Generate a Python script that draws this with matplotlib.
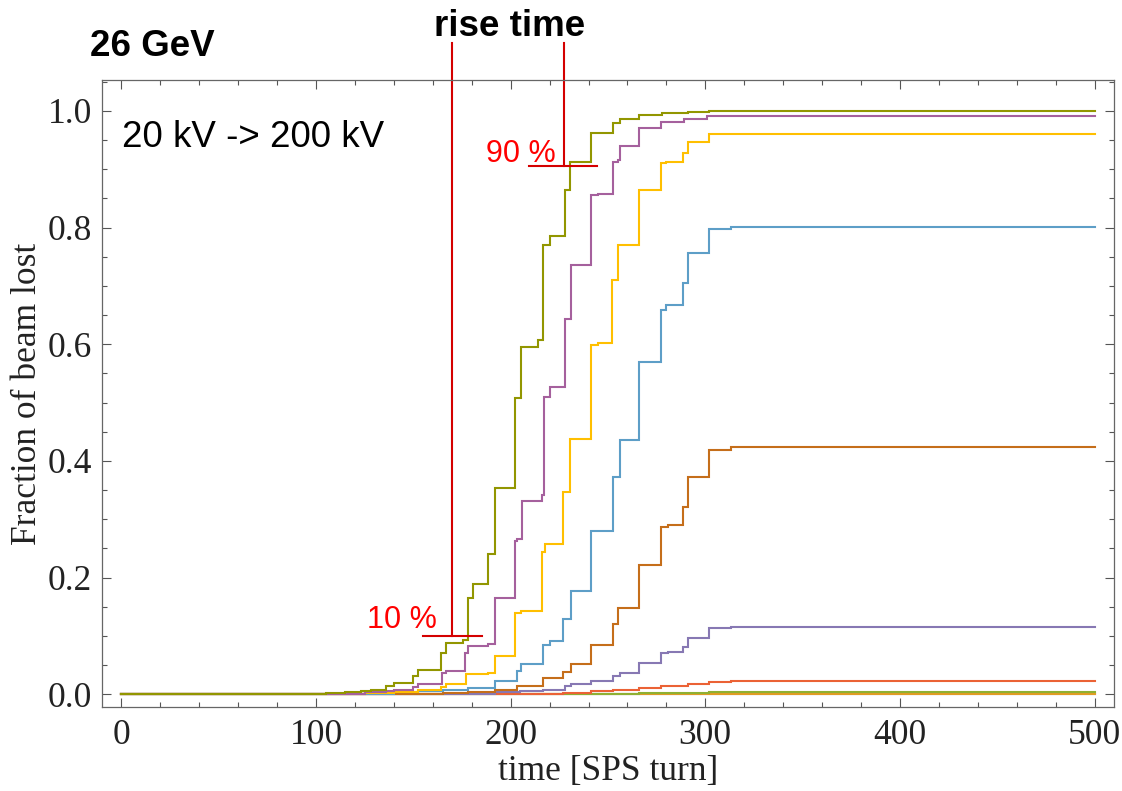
import matplotlib
matplotlib.use('Agg')
import matplotlib.pyplot as plt
from matplotlib.ticker import MultipleLocator

# ---------------- data ----------------
x_ticks = [0, 100, 200, 300, 400, 500]
x_ticklabels = ['0', '100', '200', '300', '400', '500']
y_ticks = [0.0, 0.2, 0.4, 0.6, 0.8, 1.0]
y_ticklabels = ['0.0', '0.2', '0.4', '0.6', '0.8', '1.0']

blue_t = [0, 302, 500]
blue_f = [0, 0.0003, 0.0003]

orange_t = [0, 266, 302, 500]
orange_f = [0, 0.0005, 0.001, 0.001]

green_t = [0, 230, 252, 266, 280, 302, 313, 500]
green_f = [0, 0.0005, 0.001, 0.0015, 0.002, 0.003, 0.0032, 0.0032]

red_t = [0, 205, 227, 241.4, 252.6, 266, 277.4, 291, 302, 313.3, 500]
red_f = [0, 0.001, 0.002, 0.005, 0.008, 0.010, 0.014, 0.018, 0.0206, 0.0218, 0.0218]

purple_t = [0, 165, 192, 205, 216.6, 228, 231, 241.4, 252.6, 256, 266, 277.4, 280.8,
            288.5, 291, 302, 313.3, 500]
purple_f = [0, 0.001, 0.003, 0.005, 0.008, 0.014, 0.017, 0.022, 0.031, 0.037, 0.054,
            0.071, 0.072, 0.081, 0.097, 0.114, 0.116, 0.116]

brown_t = [0, 140, 165, 178, 192, 203, 216.6, 227, 231, 241.4, 252.6, 255, 266, 277.4,
           280.8, 288.5, 291, 302, 313.3, 500]
brown_f = [0, 0.001, 0.002, 0.004, 0.007, 0.014, 0.028, 0.038, 0.052, 0.085, 0.121,
           0.148, 0.222, 0.286, 0.290, 0.321, 0.372, 0.419, 0.424, 0.424]

lblue_t = [0, 120, 140, 152.5, 165, 178, 191.8, 203, 205.5, 216.6, 220, 227, 231, 241.4,
           252.6, 256, 266, 277.4, 280, 288.5, 291, 302, 313.3, 500]
lblue_f = [0, 0.001, 0.003, 0.005, 0.008, 0.011, 0.022, 0.040, 0.051, 0.085, 0.091,
           0.129, 0.177, 0.280, 0.372, 0.436, 0.569, 0.659, 0.668, 0.705, 0.757, 0.798,
           0.801, 0.801]

yellow_t = [0, 100, 125, 140, 152.5, 164, 167, 177, 188.4, 191.8, 202, 205.5, 216,
            217.5, 227, 230.3, 241.4, 245, 252.2, 255, 266, 277.4, 280, 288.5, 291,
            302, 500]
yellow_f = [0, 0.0005, 0.002, 0.004, 0.008, 0.012, 0.017, 0.034, 0.037, 0.065, 0.140,
            0.142, 0.243, 0.258, 0.346, 0.437, 0.598, 0.602, 0.710, 0.770, 0.864,
            0.910, 0.913, 0.928, 0.947, 0.960, 0.960]

pink_t = [0, 80, 110, 125, 136, 140, 150, 152.5, 164.5, 167, 176.5, 178, 188.4, 191.8,
          202, 203.3, 205.9, 216, 217, 220, 227.7, 231, 241.4, 245, 252.6, 255, 256,
          266, 277, 289, 301, 313, 500]
pink_f = [0, 0.0005, 0.001, 0.003, 0.006, 0.008, 0.012, 0.017, 0.036, 0.039, 0.070,
          0.082, 0.086, 0.165, 0.263, 0.266, 0.332, 0.342, 0.509, 0.526, 0.644, 0.735,
          0.856, 0.858, 0.913, 0.916, 0.939, 0.970, 0.981, 0.986, 0.991, 0.992, 0.992]

olive_t = [0, 60, 90, 105, 115, 123, 128, 136, 140, 150, 152.5, 164, 167, 175.5, 178,
           180.7, 188.4, 191.8, 202, 205.5, 214, 216.6, 220, 227.8, 230.3, 241.4,
           252.6, 256, 266, 278, 291, 302, 500]
olive_f = [0, 0.0005, 0.001, 0.002, 0.003, 0.005, 0.007, 0.014, 0.019, 0.031, 0.041,
           0.070, 0.088, 0.093, 0.165, 0.189, 0.240, 0.354, 0.507, 0.595, 0.607, 0.770,
           0.785, 0.864, 0.913, 0.962, 0.979, 0.986, 0.993, 0.996, 0.998, 0.999, 0.999]

series = [
    (blue_t, blue_f, '#5E81B5'),
    (orange_t, orange_f, '#E19C24'),
    (green_t, green_f, '#8FB032'),
    (red_t, red_f, '#EB6235'),
    (purple_t, purple_f, '#8778B3'),
    (brown_t, brown_f, '#C56E1A'),
    (lblue_t, lblue_f, '#5D9EC7'),
    (yellow_t, yellow_f, '#FFBF00'),
    (pink_t, pink_f, '#A5609D'),
    (olive_t, olive_f, '#929600'),
]

# rise-time markers
t10, f10 = 169.8, 0.10
t90, f90 = 227.5, 0.905
marker_top = 1.117

# ---------------- figure ----------------
serif = ['Liberation Serif', 'DejaVu Serif']
sans = ['Liberation Sans', 'DejaVu Sans']

fig = plt.figure(figsize=(11.22, 7.91), dpi=100)
ax = fig.add_axes([102 / 1122, 1 - 707 / 791, (1114 - 102) / 1122, (707 - 80) / 791])

for t, f, c in series:
    ax.step(t, f, where='post', color=c, lw=1.5, solid_joinstyle='miter')

ax.set_xlim(-10, 510)
ax.set_ylim(-0.022, 1.053)

ax.set_xticks(x_ticks)
ax.set_xticklabels(x_ticklabels, family=serif)
ax.set_yticks(y_ticks)
ax.set_yticklabels(y_ticklabels, family=serif)
ax.xaxis.set_minor_locator(MultipleLocator(20))
ax.yaxis.set_minor_locator(MultipleLocator(0.05))
ax.tick_params(which='both', direction='in', top=True, right=True,
               color='#555555', width=0.8)
ax.tick_params(which='major', length=6.5, labelsize=25.5, labelcolor='#222222')
ax.tick_params(which='minor', length=3.5)
ax.tick_params(axis='x', pad=9)
ax.tick_params(axis='y', pad=7)
for s in ax.spines.values():
    s.set_color('#666666')
    s.set_linewidth(0.9)

ax.set_xlabel('time [SPS turn]', family=serif, fontsize=25.5, color='#222222', labelpad=2)
ax.set_ylabel('Fraction of beam lost', family=serif, fontsize=25.5, color='#222222', labelpad=3)

# rise-time annotation lines
lc = '#d40000'
ax.plot([t10, t10], [f10, marker_top], color=lc, lw=1.5, clip_on=False)
ax.plot([155, 185.5], [f10, f10], color=lc, lw=1.5, clip_on=False)
ax.plot([t90, t90], [f90, marker_top], color=lc, lw=1.5, clip_on=False)
ax.plot([209.5, 244.6], [f90, f90], color=lc, lw=1.5, clip_on=False)

ax.text(162.0, 0.113, '10 %', color='red', fontsize=22, family=sans,
        ha='right', va='baseline')
ax.text(223.0, 0.913, '90 %', color='red', fontsize=22, family=sans,
        ha='right', va='baseline')
ax.text(0.4, 0.938, '20 kV -> 200 kV', color='black', fontsize=26.5, family=sans,
        ha='left', va='baseline')

fig.text(90 / 1122, 1 - 56 / 791, '26 GeV', fontsize=26.5, fontweight='bold',
         family=sans, ha='left', va='baseline')
fig.text(510 / 1122, 1 - 36 / 791, 'rise time', fontsize=26.5, fontweight='bold',
         family=sans, ha='center', va='baseline')

fig.savefig('out.png', dpi=100)
